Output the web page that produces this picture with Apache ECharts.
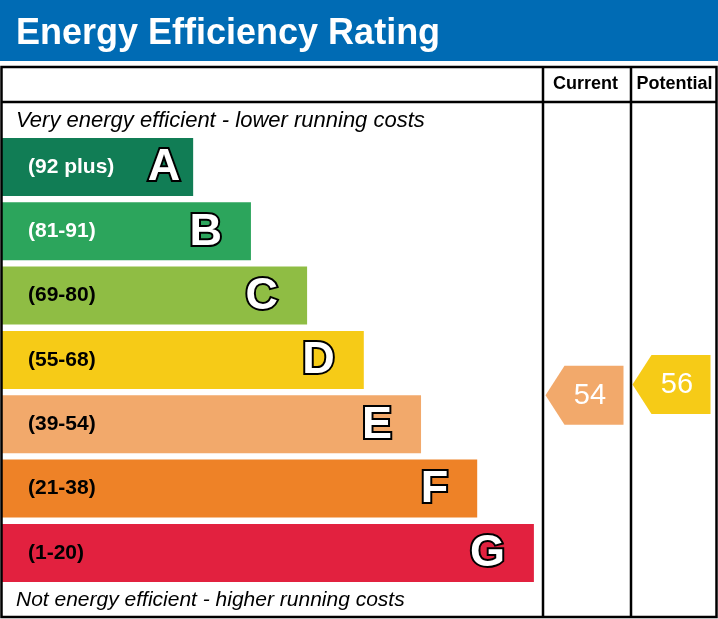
<!DOCTYPE html>
<html>
<head>
<meta charset="utf-8">
<script src="https://cdn.jsdelivr.net/npm/echarts@6/dist/echarts.min.js"></script>
<style>
html,body{margin:0;padding:0;background:#fff;}
#chart{width:718px;height:619px;}
</style>
</head>
<body>
<div id="chart"></div>
<script>
// ---- data ----
var bandLetters = ['A', 'B', 'C', 'D', 'E', 'F', 'G'];
var bandRanges = ['(92 plus)', '(81-91)', '(69-80)', '(55-68)', '(39-54)', '(21-38)', '(1-20)'];
var bandLow = [92, 81, 69, 55, 39, 21, 1];
var bandHigh = [100, 91, 80, 68, 54, 38, 20];
var barLength = [35.4, 46.1, 56.5, 67.0, 77.6, 88.0, 98.5];
var columns = ['Current', 'Potential'];
var ratings = [54, 56];
var titleText = 'Energy Efficiency Rating';
var topNote = 'Very energy efficient - lower running costs';
var bottomNote = 'Not energy efficient - higher running costs';

// ---- styling ----
var bandColors = ['#117d55', '#2ca55c', '#8fbd44', '#f6cb17', '#f2a96b', '#ee8227', '#e2213f'];
var labelColors = ['#fff', '#fff', '#000', '#000', '#000', '#000', '#000'];
var FONT = '"Liberation Sans", Arial, Helvetica, sans-serif';
var BAR_H = 58;
var GRID_TOP = 134.8, GRID_H = 450.3;

function bandIndexFor(v) {
  for (var i = 0; i < bandLow.length; i++) {
    if (v >= bandLow[i] && v <= bandHigh[i]) return i;
  }
  return bandLow.length - 1;
}

var chart = echarts.init(document.getElementById('chart'), null, {renderer: 'canvas'});

var barData = barLength.map(function (v, i) {
  return {
    value: v,
    itemStyle: {color: bandColors[i]},
    label: {color: labelColors[i]}
  };
});
var letterData = barLength.map(function (v, i) { return [v, i]; });
var arrowData = ratings.map(function (v, i) {
  return [i, bandIndexFor(v), v];
});

var option = {
  animation: false,
  title: {
    text: titleText,
    left: 11,
    top: 11,
    textStyle: {color: '#fff', fontSize: 36, fontWeight: 'bold', fontFamily: FONT}
  },
  grid: [
    {left: 2, width: 540, top: GRID_TOP, height: GRID_H},
    {left: 542, width: 174, top: GRID_TOP, height: GRID_H}
  ],
  xAxis: [
    {gridIndex: 0, type: 'value', min: 0, max: 100, show: false},
    {gridIndex: 1, type: 'category', data: columns, show: false}
  ],
  yAxis: [
    {gridIndex: 0, type: 'category', data: bandLetters, inverse: true, show: false},
    {gridIndex: 1, type: 'category', data: bandLetters, inverse: true, show: false}
  ],
  graphic: [
    {type: 'rect', shape: {x: 0, y: 0, width: 718, height: 61}, style: {fill: '#006bb4'}, z: 0},
    {type: 'rect', shape: {x: 1.5, y: 67, width: 715, height: 550}, style: {fill: 'none', stroke: '#000', lineWidth: 2.5}, z: 10},
    {type: 'line', shape: {x1: 1.5, y1: 102, x2: 716.5, y2: 102}, style: {stroke: '#000', lineWidth: 2.5}, z: 10},
    {type: 'line', shape: {x1: 543, y1: 67, x2: 543, y2: 617}, style: {stroke: '#000', lineWidth: 2.5}, z: 10},
    {type: 'line', shape: {x1: 631, y1: 67, x2: 631, y2: 617}, style: {stroke: '#000', lineWidth: 2.5}, z: 10},
    {type: 'text', x: 585.5, y: 84, style: {text: columns[0], fill: '#000', font: 'bold 18px ' + FONT, textAlign: 'center', textVerticalAlign: 'middle'}, z: 10},
    {type: 'text', x: 674.5, y: 84, style: {text: columns[1], fill: '#000', font: 'bold 18px ' + FONT, textAlign: 'center', textVerticalAlign: 'middle'}, z: 10},
    {type: 'text', x: 16, y: 121, style: {text: topNote, fill: '#000', font: 'italic 22px ' + FONT, textAlign: 'left', textVerticalAlign: 'middle'}, z: 10},
    {type: 'text', x: 16, y: 600, style: {text: bottomNote, fill: '#000', font: 'italic 21px ' + FONT, textAlign: 'left', textVerticalAlign: 'middle'}, z: 10}
  ],
  series: [
    {
      type: 'bar',
      xAxisIndex: 0, yAxisIndex: 0,
      data: barData,
      barWidth: BAR_H,
      label: {
        show: true,
        position: 'insideLeft',
        distance: 26,
        formatter: function (p) { return bandRanges[p.dataIndex]; },
        fontSize: 21,
        fontWeight: 'bold',
        fontFamily: FONT
      }
    },
    {
      type: 'custom',
      xAxisIndex: 0, yAxisIndex: 0,
      data: letterData,
      encode: {x: 0, y: 1},
      z: 5,
      renderItem: function (params, api) {
        var i = params.dataIndex;
        var c = api.coord([api.value(0), api.value(1)]);
        var gap = i === 0 ? 13 : 29;
        return {
          type: 'text',
          x: c[0] - gap,
          y: c[1] + 1,
          style: {
            text: bandLetters[i],
            fill: '#fff',
            stroke: '#000',
            lineWidth: 4,
            strokeFirst: true,
            font: 'bold 45px ' + FONT,
            textAlign: 'right',
            textVerticalAlign: 'middle'
          }
        };
      }
    },
    {
      type: 'custom',
      xAxisIndex: 1, yAxisIndex: 1,
      data: arrowData,
      encode: {x: 0, y: 1},
      renderItem: function (params, api) {
        var col = api.value(0), bi = api.value(1), v = api.value(2);
        var c = api.coord([col, bi]);
        var lo = bandLow[bi], hi = bandHigh[bi];
        var cy = c[1] - BAR_H / 2 + (hi - v) / (hi - lo) * BAR_H;
        var x0 = c[0] - 40, x1 = c[0] + 38, tip = 19;
        var top = cy - 29.5, bot = cy + 29.5;
        return {
          type: 'group',
          children: [
            {
              type: 'polygon',
              shape: {points: [[x0, cy], [x0 + tip, top], [x1, top], [x1, bot], [x0 + tip, bot]]},
              style: {fill: bandColors[bi]}
            },
            {
              type: 'text',
              x: (x0 + tip + x1) / 2 - 4,
              y: cy + 1,
              style: {text: String(v), fill: '#fff', font: '29px ' + FONT, textAlign: 'center', textVerticalAlign: 'middle'}
            }
          ]
        };
      }
    }
  ]
};
chart.setOption(option);
</script>
</body>
</html>
